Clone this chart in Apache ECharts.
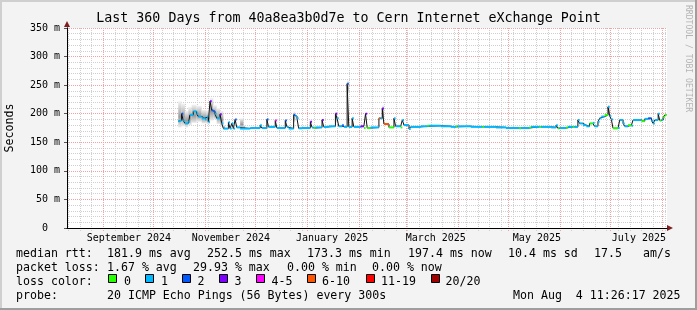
<!DOCTYPE html>
<html><head><meta charset="utf-8">
<script src="https://cdn.jsdelivr.net/npm/echarts@6/dist/echarts.min.js"></script>
<style>html,body{margin:0;padding:0;background:#f3f3f3}#c{width:697px;height:310px}</style>
</head><body><div id="c"></div>
<script>
// ---------- DATA ----------
const dates = [
'2024-10-16','2024-10-17','2024-10-18','2024-10-19','2024-10-20','2024-10-22','2024-10-23','2024-10-25','2024-10-27','2024-10-28',
'2024-10-30','2024-11-01','2024-11-02','2024-11-03','2024-11-04','2024-11-05','2024-11-06','2024-11-07','2024-11-08','2024-11-10',
'2024-11-11','2024-11-12','2024-11-15','2024-11-16','2024-11-17','2024-11-18','2024-11-19','2024-11-20','2024-11-22','2024-11-28',
'2024-12-04','2024-12-05','2024-12-08','2024-12-09','2024-12-13','2024-12-14','2024-12-19','2024-12-20','2024-12-21','2024-12-24',
'2024-12-25','2024-12-26','2024-12-27','2024-12-29',
'2025-01-03','2025-01-04','2025-01-05','2025-01-06','2025-01-10','2025-01-11','2025-01-14','2025-01-18','2025-01-19','2025-01-20',
'2025-01-22','2025-01-23','2025-01-25','2025-01-26','2025-01-28','2025-01-29',
'2025-02-02','2025-02-04','2025-02-05','2025-02-06','2025-02-08','2025-02-13','2025-02-14','2025-02-15','2025-02-16','2025-02-19',
'2025-02-22','2025-02-23','2025-02-26','2025-02-27','2025-02-28',
'2025-03-03','2025-03-04','2025-03-10','2025-03-14','2025-03-15','2025-03-22','2025-03-28','2025-03-31','2025-04-01','2025-04-09',
'2025-04-16','2025-04-17','2025-04-24','2025-04-30','2025-05-08','2025-05-09','2025-05-14','2025-05-15','2025-05-20','2025-05-21',
'2025-05-27','2025-05-30','2025-05-31',
'2025-06-01','2025-06-05','2025-06-06','2025-06-09','2025-06-10','2025-06-12','2025-06-13','2025-06-15','2025-06-17','2025-06-19',
'2025-06-21','2025-06-22','2025-06-24','2025-06-25','2025-06-26','2025-06-28','2025-06-30',
'2025-07-01','2025-07-02','2025-07-03','2025-07-06','2025-07-07','2025-07-09','2025-07-10','2025-07-12','2025-07-14','2025-07-15',
'2025-07-18','2025-07-20','2025-07-22','2025-07-24','2025-07-26','2025-07-27','2025-07-28','2025-07-30','2025-07-31','2025-08-01',
'2025-08-02','2025-08-03','2025-08-04'
];
// median rtt in ms
const rtt = [
187,188,200,188,183,186,198,204,200,195,
192,190,195,186,222,206,204,200,192,199,
183,174,185,174,183,174,190,176,174,175,
180,175,190,177,188,175,188,177,174,198,
196,192,174.5,175,
186,176,175,176,189,177,178,200,192,178,
180,177,252.5,177,192,177,
178,175,200,175,176,192,192,209,182,176,
192,178,176,189,180,
173.3,177,178,179,179,178,177,178,178,177,
177,177,176,175,174.5,175,176,177,177,177,
176,180,174.5,
175,176,177,177,177,189,183,180,178,183,
184,178,186,192,195,198,212,
196,190,174.5,175,189,183,178,180,179,189,
189,187,191,192,188,183,189,200,188,189,
194,198,197.4
];
// loss bucket index (0 = 0 lost, 1 = 1 lost, 2, 3, 4-5, 6-10, 11-19, 20/20)
const loss = [
1,1,2,1,1,1,1,1,1,1,
1,1,1,1,3,2,2,1,1,3,
1,1,1,1,1,1,2,1,1,1,
1,1,2,1,4,1,2,1,1,2,
1,1,1,1,
3,1,0,1,3,1,1,3,1,1,
2,1,2,1,1,1,
3,0,3,0,1,5,1,3,5,0,
1,1,0,1,1,
1,1,1,0,1,1,1,0,1,1,
0,1,1,1,0,1,0,1,0,1,
1,1,0,
1,0,1,0,1,1,1,1,1,0,
1,1,1,1,1,0,1,
1,1,0,1,1,1,1,0,1,1,
1,0,1,2,1,1,1,1,0,1,
0,0,0
];
// smoke (spread of the pings) in ms
const smokeDates = ['2024-10-16','2024-10-18','2024-10-20','2024-10-22','2024-10-24','2024-10-27','2024-10-30','2024-11-02','2024-11-04','2024-11-06','2024-11-08','2024-11-10','2024-11-12','2024-11-22','2024-11-24','2024-12-24','2025-01-18','2025-01-25','2025-02-15','2025-06-30'];
const smokeHi = [222,218,205,212,216,214,207,206,228,215,210,205,180,192,180,204,203,258,215,215];
const smokeLo = [176,178,176,180,184,186,183,182,188,190,182,178,173,174,173,185,185,235,190,195];

const lossColors = ['#26ff00','#00b8ff','#0059ff','#7e00ff','#ff00ff','#ff5500','#ff0000','#a10000'];
const lossLabels = ['0','1','2','3','4-5','6-10','11-19','20/20'];

const xLabelDates = ['2024-09-16T12:00:00Z','2024-11-16T12:00:00Z','2025-01-16T00:00:00Z','2025-03-19T00:00:00Z','2025-05-18T12:00:00Z','2025-07-18T12:00:00Z'];
const xLabelTexts = ['September 2024','November 2024','January 2025','March 2025','May 2025','July 2025'];

const titleText = 'Last 360 Days from 40a8ea3b0d7e to Cern Internet eXchange Point';
const rttStats = ['181.9 ms avg','252.5 ms max','173.3 ms min','197.4 ms now','10.4 ms sd','17.5','am/s'];
const lossStats = ['1.67 % avg','29.93 % max','0.00 % min','0.00 % now'];
const probeText = '20 ICMP Echo Pings (56 Bytes) every 300s';
const stampText = 'Mon Aug  4 11:26:17 2025';

// ---------- LAYOUT ----------
const DAY = 864e5;
const ts = s => Date.parse(s.length === 10 ? s + 'T00:00:00Z' : s);
const xMin = ts('2024-08-10T11:20:00Z'), xMax = ts('2025-08-04T06:46:00Z');
const mono = '"DejaVu Sans Mono", monospace';
const GRID_MINOR = '#cfcfcf', GRID_MAJOR = '#f1a3a3', ARROW = '#7f1f1f';

const medianLine = dates.map((d, i) => [ts(d), rtt[i]]);
const segs = dates.slice(0, -1).map((d, i) => [ts(d), ts(dates[i + 1]), rtt[i], loss[i]]);
const smoke = smokeDates.map((d, i) => {
  const t = ts(d);
  const nx = i + 1 < smokeDates.length ? ts(smokeDates[i + 1]) : Infinity;
  return [t, (nx - t <= 3 * DAY) ? nx : t + DAY, smokeLo[i], smokeHi[i]];
});
const weekLines = []; for (let t = ts('2024-08-11'); t < xMax; t += 7 * DAY) weekLines.push([t]);
const monthLines = []; for (let m = 8; ; m++) { const t = Date.UTC(2024, m, 1); if (t > xMax) break; monthLines.push([t]); }

function vline(color) {
  return (params, api) => {
    const t = api.value(0);
    const a = api.coord([t, 350]), b = api.coord([t, 0]);
    const x = Math.round(a[0]) + 0.5;
    return { type: 'line', shape: { x1: x, y1: a[1], x2: x, y2: b[1] + 3 },
      style: { stroke: color, lineWidth: 1, lineDash: [1, 1] } };
  };
}

const hiddenAxis = { axisLabel: { show: false }, axisTick: { show: false }, splitLine: { show: false } };

const txt = (text, x, y, size, extra) => Object.assign({ type: 'text', x: x, y: y, silent: true,
  style: { text: text, font: size + 'px ' + mono, fill: '#000', align: 'left', verticalAlign: 'middle' } }, extra || {});
const g = [];
g.push({ type: 'rect', shape: { x: 0, y: 0, width: 697, height: 2 }, style: { fill: '#cfcfcf' }, silent: true });
g.push({ type: 'rect', shape: { x: 0, y: 0, width: 2, height: 310 }, style: { fill: '#cfcfcf' }, silent: true });
g.push({ type: 'rect', shape: { x: 0, y: 308, width: 697, height: 2 }, style: { fill: '#9e9e9e' }, silent: true });
g.push({ type: 'rect', shape: { x: 695, y: 0, width: 2, height: 310 }, style: { fill: '#9e9e9e' }, silent: true });
const LF = 11.6;
const rttX = [107, 207, 307, 408, 508, 594, 643];
const lossX = [107, 193, 287, 372];
g.push(txt('median rtt:', 16, 254, LF));
rttStats.forEach((s, i) => g.push(txt(s, rttX[i], 254, LF)));
g.push(txt('packet loss:', 16, 268, LF));
lossStats.forEach((s, i) => g.push(txt(s, lossX[i], 268, LF)));
g.push(txt('loss color:', 16, 282, LF));
const boxX = [108.5, 145.5, 182.5, 219.5, 256.5, 307.5, 366.5, 431.5];
const boxLabelX = [124, 161, 197.5, 234.5, 271.5, 322, 381, 445.5];
lossLabels.forEach((s, i) => {
  g.push({ type: 'rect', silent: true, shape: { x: boxX[i], y: 274.5, width: 8, height: 8 },
    style: { fill: lossColors[i], stroke: '#000', lineWidth: 1 } });
  g.push(txt(s, boxLabelX[i], 282, LF));
});
g.push(txt('probe:', 16, 296, LF));
g.push(txt(probeText, 107, 296, LF));
g.push(txt(stampText, 513, 296, LF));
g.push({ type: 'text', x: 688.5, y: 5, rotation: -Math.PI / 2, silent: true,
  style: { text: 'RRDTOOL / TOBI OETIKER', font: '8.1px ' + mono, fill: '#b4b4b4', align: 'left', verticalAlign: 'middle' } });

const chart = echarts.init(document.getElementById('c'), null, { renderer: 'canvas', width: 697, height: 310 });
chart.setOption({
  animation: false,
  backgroundColor: '#f3f3f3',
  title: { text: titleText, left: 'center', top: 12, padding: 0,
    textStyle: { fontFamily: mono, fontSize: 13.3, fontWeight: 'normal', color: '#000' } },
  grid: { left: 67, top: 28, width: 600, height: 200, show: true, backgroundColor: '#ffffff', borderWidth: 0,
    containLabel: false, outerBoundsMode: 'none' },
  xAxis: [
    Object.assign({ type: 'value', min: xMin, max: xMax, position: 'bottom', z: 2,
      axisLine: { show: true, lineStyle: { color: '#000', width: 1 } } }, hiddenAxis),
    Object.assign({ type: 'value', min: xMin, max: xMax, position: 'bottom', z: 0.5,
      axisLine: { show: true, symbol: ['none', 'triangle'], symbolSize: [6, 6], symbolOffset: [0, 3],
        lineStyle: { color: ARROW, width: 1 } } }, hiddenAxis)
  ],
  yAxis: [
    { type: 'value', min: 0, max: 350, interval: 10, position: 'left', z: 0,
      axisLine: { show: false }, axisTick: { show: false }, axisLabel: { show: false },
      splitLine: { show: true, lineStyle: { color: GRID_MINOR, width: 1, type: [1, 1] } } },
    { type: 'value', min: 0, max: 350, interval: 50, position: 'left', z: 1,
      name: 'Seconds', nameLocation: 'middle', nameGap: 51, nameRotate: 90,
      nameTextStyle: { fontFamily: mono, fontSize: 11.6, color: '#000' },
      axisLine: { show: true, lineStyle: { color: '#000', width: 1 } },
      axisTick: { show: true, length: 3, lineStyle: { color: '#555' } },
      axisLabel: { show: true, margin: 7, fontFamily: mono, fontSize: 10, color: '#000',
        formatter: v => v === 0 ? '{z|0}' : v + ' m',
        rich: { z: { fontFamily: mono, fontSize: 10, color: '#000', padding: [0, 12, 0, 0] } } },
      splitLine: { show: true, lineStyle: { color: GRID_MAJOR, width: 1, type: [1, 1] } } },
    Object.assign({ type: 'value', min: 0, max: 350, position: 'left', z: 0.5,
      axisLine: { show: true, symbol: ['none', 'triangle'], symbolSize: [6, 6], symbolOffset: [0, 4],
        lineStyle: { color: ARROW, width: 1 } } }, hiddenAxis)
  ],
  series: [
    { type: 'custom', name: 'weeks', xAxisIndex: 0, yAxisIndex: 1, z: 0.6, silent: true,
      data: weekLines, renderItem: vline(GRID_MINOR) },
    { type: 'custom', name: 'months', xAxisIndex: 0, yAxisIndex: 1, z: 0.7, silent: true,
      data: monthLines, renderItem: vline(GRID_MAJOR) },
    { type: 'custom', name: 'smoke', xAxisIndex: 0, yAxisIndex: 1, z: 3, silent: true,
      data: smoke,
      renderItem: (params, api) => {
        const a = api.coord([api.value(0), api.value(3)]);
        const b = api.coord([api.value(1), api.value(2)]);
        return { type: 'rect', shape: { x: a[0], y: a[1], width: Math.max(1, b[0] - a[0]), height: b[1] - a[1] },
          style: { fill: new echarts.graphic.LinearGradient(0, 0, 0, 1, [
            { offset: 0, color: '#f4f4f4' }, { offset: 0.6, color: '#9a9a9a' }, { offset: 1, color: '#ececec' }]) } };
      } },
    { type: 'line', name: 'median', xAxisIndex: 0, yAxisIndex: 1, z: 4, silent: true,
      data: medianLine, step: 'end', showSymbol: false, symbol: 'none',
      lineStyle: { color: '#111', width: 1 } },
    { type: 'custom', name: 'loss colour', xAxisIndex: 0, yAxisIndex: 1, z: 5, silent: true,
      data: segs,
      renderItem: (params, api) => {
        const a = api.coord([api.value(0), api.value(2)]);
        const b = api.coord([api.value(1), api.value(2)]);
        return { type: 'rect', shape: { x: a[0], y: a[1] - 1, width: b[0] - a[0], height: 2 },
          style: { fill: lossColors[api.value(3)] } };
      } },
    { type: 'custom', name: 'month labels', xAxisIndex: 0, yAxisIndex: 1, z: 5, silent: true,
      data: xLabelDates.map((d, i) => [ts(d), i]),
      renderItem: (params, api) => {
        const c = api.coord([api.value(0), 0]);
        return { type: 'text', x: c[0], y: c[1] + 10,
          style: { text: xLabelTexts[api.value(1)], font: '10px ' + mono, fill: '#000', align: 'center', verticalAlign: 'middle' } };
      } }
  ],
  graphic: g
});
</script>
</body></html>
